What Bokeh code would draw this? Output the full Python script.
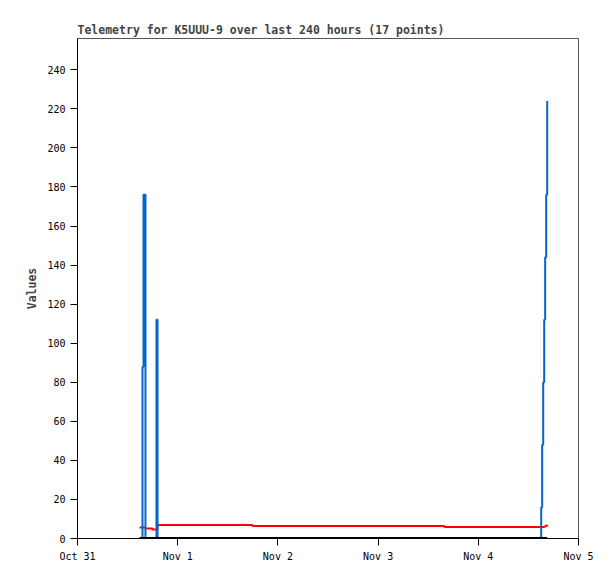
import pandas as pd
from bokeh.plotting import figure
from bokeh.models import Range1d, FixedTicker, ColumnDataSource
from bokeh.embed import file_html
from bokeh.resources import INLINE

# ---- data ----
times = [
    "2024-10-31 14:51", "2024-10-31 15:34", "2024-10-31 15:49", "2024-10-31 16:17",
    "2024-10-31 17:15", "2024-10-31 17:58", "2024-10-31 18:55", "2024-10-31 19:10",
    "2024-11-01 17:55", "2024-11-03 15:54", "2024-11-04 15:04", "2024-11-04 15:18",
    "2024-11-04 15:33", "2024-11-04 15:47", "2024-11-04 16:01", "2024-11-04 16:16",
    "2024-11-04 16:30",
]
blue_vals = [0, 88, 176, 0, 0, 0, 112, 0, 0, 0, 16, 48, 80, 112, 144, 176, 224]
red_vals = [5.6, 5.6, 5.6, 5.1, 5.1, 4.6, 4.6, 6.9, 6.4, 5.9, 5.9, 5.9, 5.9, 6.1, 6.3, 6.6, 6.9]
black_vals = [0] * 17
tick_labels = ["Oct 31", "Nov 1", "Nov 2", "Nov 3", "Nov 4", "Nov 5"]
y_ticks = list(range(0, 241, 20))
title_text = "Telemetry for K5UUU-9 over last 240 hours (17 points)"

base = pd.Timestamp("2024-10-31 00:00")
hours = ((pd.to_datetime(times) - base) / pd.Timedelta(hours=1)).tolist()
src = ColumnDataSource(dict(t=hours, blue=blue_vals, red=red_vals, black=black_vals))

x_ticks = [24 * i for i in range(len(tick_labels))]

p = figure(frame_width=501, frame_height=500,
           x_range=Range1d(0, x_ticks[-1]), y_range=Range1d(0, 256),
           output_backend="svg", toolbar_location=None, title=title_text,
           min_border_left=77, min_border_right=30, min_border_top=38, min_border_bottom=35)

p.background_fill_color = "white"
p.border_fill_color = "white"
p.outline_line_color = "#555555"
p.xgrid.visible = False
p.ygrid.visible = False

mono = "DejaVu Sans Mono"
p.title.text_font = mono
p.title.text_font_size = "11.5px"
p.title.text_font_style = "bold"
p.title.align = "left"
p.title.standoff = 3

p.xaxis.ticker = FixedTicker(ticks=x_ticks)
p.xaxis.major_label_overrides = {t: lab for t, lab in zip(x_ticks, tick_labels)}
p.yaxis.ticker = FixedTicker(ticks=y_ticks)
for ax in (p.xaxis, p.yaxis):
    ax.major_label_text_font = mono
    ax.major_label_text_font_size = "10px"
    ax.major_label_text_color = "black"
    ax.major_tick_out = 7
    ax.major_tick_in = 0
    ax.minor_tick_out = 0
    ax.minor_tick_in = 0
    ax.axis_line_color = "black"
    ax.major_tick_line_color = "black"
    ax.major_label_standoff = 5

p.yaxis.axis_label = "Values"
p.yaxis.axis_label_text_font = mono
p.yaxis.axis_label_text_font_size = "11.5px"
p.yaxis.axis_label_text_font_style = "bold"
p.yaxis.axis_label_standoff = 5

p.step("t", "red", source=src, mode="after", line_color="#ff0000", line_width=2)
p.step("t", "blue", source=src, mode="after", line_color="#0066cc", line_width=2)
p.step("t", "black", source=src, mode="after", line_color="black", line_width=3)

open("out.html", "w").write(file_html(p, INLINE))
